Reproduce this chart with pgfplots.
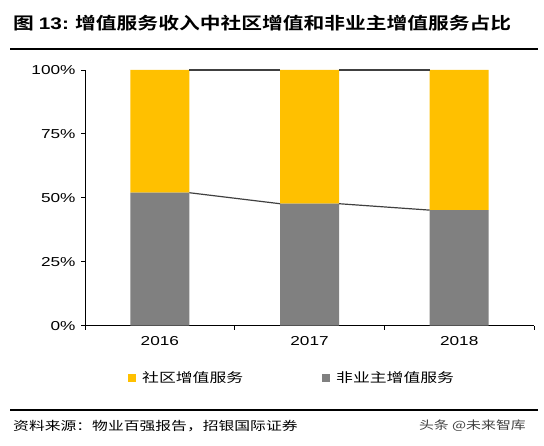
\documentclass[border=0pt]{standalone}
\usepackage{pgfplots}
\pgfplotsset{compat=1.18}
\usepackage{fontspec}
\setmainfont{Liberation Sans}[FakeStretch=1.33]
\newfontfamily\cjk{Noto Sans CJK SC}[FakeStretch=1.3]
\newfontfamily\cjkbold{Noto Sans CJK SC Bold}[FakeStretch=1.24]
\newfontfamily\latinbold{Liberation Sans Bold}[FakeStretch=1.24]
\definecolor{cYellow}{HTML}{FFC000}
\definecolor{cGray}{HTML}{808080}
\definecolor{cLine}{HTML}{404040}

\pgfplotsset{
  frame/.style={
    at={(85bp,120.3bp)}, anchor=south west,
    scale only axis, width=449bp, height=255.7bp,
    xmin=-0.5, xmax=2.5, ymin=0, ymax=100,
  }
}

\begin{document}
\begin{tikzpicture}[x=1bp,y=1bp]
  % page frame
  \path (0,0) rectangle (544,446);
  % title and rules
  \node[anchor=west,inner sep=0] at (13,423)
    {\fontsize{16.8}{20}\selectfont\cjkbold 图\hspace{5bp}{\latinbold 13:} 增值服务收入中社区增值和非业主增值服务占比};
  \draw[line width=2.2bp] (10,397) -- (538,397);
  \draw[line width=2.2bp] (10,36) -- (538,36);
  \node[anchor=west,inner sep=0] at (13,20)
    {\fontsize{12.2}{15}\selectfont\cjk 资料来源：物业百强报告，招银国际证券};
  \node[anchor=east,inner sep=0] at (526,20)
    {\fontsize{11.5}{15}\selectfont\color{black!75}\cjk 头条 @未来智库};

  \begin{axis}[
    frame,
    ybar stacked, bar width=59bp,
    axis x line*=bottom, axis y line*=left,
    axis line style={black, line width=0.9bp},
    xtick={0,1,2}, xticklabels={2016,2017,2018},
    minor xtick={-0.5,0.5,1.5,2.5},
    major x tick style={draw=none},
    minor tick length=4bp,
    ytick={0,25,50,75,100},
    yticklabel={\pgfmathprintnumber{\tick}\%},
    major tick length=4bp,
    tick align=outside,
    tick style={black, line width=0.9bp},
    /pgf/number format/assume math mode=true,
    ticklabel style={font=\fontsize{13}{15}\selectfont},
    xticklabel style={yshift=-3bp},
    yticklabel style={xshift=-2bp},
  ]
    \addplot[fill=cGray, draw=none] coordinates {(0,52.0) (1,47.7) (2,45.2)};
    \addplot[fill=cYellow, draw=none] coordinates {(0,48.0) (1,52.3) (2,54.8)};
  \end{axis}

  % series lines joining the tops of neighbouring segments
  \begin{axis}[frame, hide axis, clip=false]
    \addplot[draw=cLine, line width=1.2bp] coordinates {(0.197,52.0) (0.803,47.7)};
    \addplot[draw=cLine, line width=1.2bp] coordinates {(1.197,47.7) (1.803,45.2)};
    \addplot[draw=cLine, line width=1.2bp] coordinates {(0.197,100) (0.803,100)};
    \addplot[draw=cLine, line width=1.2bp] coordinates {(1.197,100) (1.803,100)};
  \end{axis}

  % legend
  \fill[cYellow] (128,64) rectangle (136,72);
  \node[anchor=west,inner sep=0] at (142,68)
    {\fontsize{13}{16}\selectfont\cjk 社区增值服务};
  \fill[cGray] (322,64) rectangle (330,72);
  \node[anchor=west,inner sep=0] at (336,68)
    {\fontsize{13}{16}\selectfont\cjk 非业主增值服务};
\end{tikzpicture}
\end{document}
